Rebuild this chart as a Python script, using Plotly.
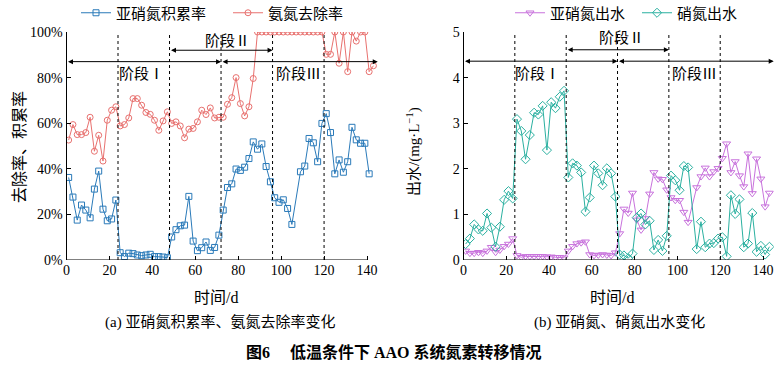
import plotly.graph_objects as go

# ---------------- data ----------------
# (a) 亚硝氮积累率 (%)
days_nar = [1,3,5,7,9,11,13,15,17,19,21,23,
            25,27,29,31,33,35,37,39,41,43,45,47,
            49,51,53,55,57,59,61,63,65,67,69,71,
            73,75,77,79,81,83,85,87,89,91,93,95,
            97,99,101,103,105,109,111,113,115,117,119,
            121,123,125,127,129,131,133,135,137,139,141]
nar = [36.2,27.6,17.5,24.1,21.9,18.5,31.1,39.0,22.3,17.2,18.0,26.3,
       3.2,1.5,3.0,2.8,2.2,1.9,2.2,2.5,1.5,1.5,1.3,1.0,
       10.1,13.3,15.0,15.3,27.9,8.3,4.1,5.4,7.9,4.2,5.5,10.9,
       21.9,31.8,33.4,39.9,39.3,40.7,44.5,51.8,48.6,50.9,41.0,34.3,
       27.3,25.3,26.4,22.6,15.6,38.7,41.2,53.3,51.4,43.1,59.9,
       64.2,55.9,37.8,43.9,38.5,43.1,58.2,52.7,51.2,51.2,37.8]

# (a) 氨氮去除率 (%)
days_arr = [1,3,5,7,9,11,13,15,17,19,21,23,
            25,27,29,31,33,35,37,39,41,43,45,47,
            49,51,53,55,57,59,61,63,65,67,69,71,
            73,75,77,79,81,83,85,87,89,91,93,95,
            97,99,101,103,105,107,109,111,113,115,117,119,
            121,123,125,127,129,131,133,135,137,139,141,143]
arr = [52.6,59.4,55.0,55.0,55.9,62.6,47.7,54.7,43.4,61.3,65.7,67.2,
       58.8,59.4,62.3,70.8,70.8,67.9,64.7,63.9,61.3,56.9,61.0,65.0,
       59.9,60.6,58.8,53.6,57.4,57.7,60.6,65.7,63.8,66.7,62.3,62.6,
       62.6,68.3,71.2,80.0,68.6,63.2,67.2,79.6,100,100,100,100,
       100,100,100,100,100,100,100,100,100,100,100,100,
       90.2,90.2,100,86.3,100,82.6,100,96.0,100,100,82.6,85.2]

# (b) 亚硝氮出水 (mg/L)
days_no2 = [1,3,5,7,9,11,13,15,17,19,21,23,
            25,27,29,31,33,35,37,39,41,43,45,47,
            49,51,53,55,57,59,61,63,65,67,69,71,
            73,75,77,79,81,83,85,87,89,91,93,95,
            97,99,101,103,105,109,111,113,115,117,119,
            121,123,125,127,129,131,133,135,137,139,141,143]
no2 = [0.20,0.15,0.15,0.17,0.15,0.20,0.28,0.17,0.22,0.30,0.35,0.47,
       0.10,0.06,0.08,0.08,0.08,0.08,0.08,0.07,0.07,0.06,0.06,0.05,
       0.20,0.30,0.36,0.38,0.40,0.12,0.10,0.11,0.12,0.11,0.10,0.16,
       0.58,1.12,1.03,1.47,0.88,0.66,0.91,1.45,1.92,1.78,1.77,1.54,
       1.37,1.31,1.31,1.05,0.83,1.59,1.83,2.02,1.83,1.94,2.01,
       2.23,2.55,1.92,2.16,1.85,1.61,2.33,1.46,2.22,1.78,1.17,1.47]

# (b) 硝氮出水 (mg/L)
days_no3 = days_no2
no3 = [0.35,0.47,0.78,0.67,0.64,1.02,0.71,0.29,0.73,1.32,1.51,1.35,
       3.09,2.83,2.21,2.74,3.23,3.19,3.38,2.41,3.46,3.33,3.58,3.71,
       1.81,2.12,2.07,1.92,1.06,1.37,2.07,1.90,1.64,2.01,1.90,1.39,
       0.12,0.10,0.04,0.14,0.93,1.02,0.78,0.86,0.22,0.44,0.20,0.53,
       1.85,1.75,1.53,2.06,2.03,0.24,0.84,0.28,0.36,0.37,0.47,
       0.50,0.08,1.42,1.01,1.33,0.28,0.36,1.03,0.18,0.31,0.12,0.29]

stage_bounds = [24, 48, 72, 96, 120]
x_ticks = [0, 20, 40, 60, 80, 100, 120, 140]
y_ticks_a = [0, 20, 40, 60, 80, 100]
y_ticks_b = [0, 1, 2, 3, 4, 5]

# ---------------- style ----------------
W, H = 784, 366
FONT = "Liberation Serif, Noto Sans CJK SC, serif"
CJK = "Liberation Serif, Noto Sans CJK SC, serif"
BLUE = "#2a7ab9"
RED = "#e8716f"
PURP = "#c872dc"
TEAL = "#2ab0a0"

def px_x(p):
    return p / W

def px_y(p):
    return 1 - p / H

XMAX = 145
x0a, x140a = 66.5, 367.0
x0b, x140b = 463.5, 763.0
sa = (x140a - x0a) / 140
sb = (x140b - x0b) / 140
ytop, ybot = 32, 260

fig = go.Figure()

mk = dict(size=6, line=dict(width=1))
fig.add_trace(go.Scatter(x=days_nar, y=nar, mode="lines+markers", name="亚硝氮积累率",
                         line=dict(color=BLUE, width=1),
                         marker=dict(symbol="square-open", color=BLUE, **mk),
                         xaxis="x", yaxis="y", legend="legend"))
fig.add_trace(go.Scatter(x=days_arr, y=arr, mode="lines+markers", name="氨氮去除率",
                         line=dict(color=RED, width=1),
                         marker=dict(symbol="circle-open", color=RED, **mk),
                         xaxis="x", yaxis="y", legend="legend2"))
fig.add_trace(go.Scatter(x=days_no2, y=no2, mode="lines+markers", name="亚硝氮出水",
                         line=dict(color=PURP, width=1),
                         marker=dict(symbol="triangle-down-open", color=PURP, size=7, line=dict(width=1)),
                         xaxis="x2", yaxis="y2", legend="legend3"))
fig.add_trace(go.Scatter(x=days_no3, y=no3, mode="lines+markers", name="硝氮出水",
                         line=dict(color=TEAL, width=1),
                         marker=dict(symbol="diamond-open", color=TEAL, size=7, line=dict(width=1)),
                         xaxis="x2", yaxis="y2", legend="legend4"))

axis_common = dict(showgrid=False, zeroline=False, ticks="inside", ticklen=4,
                   tickwidth=1, tickcolor="black", automargin=False,
                   tickfont=dict(family=FONT, size=14, color="black"))

fig.update_layout(
    width=W, height=H, autosize=False,
    margin=dict(l=0, r=0, t=0, b=0, autoexpand=False),
    paper_bgcolor="white", plot_bgcolor="white",
    font=dict(family=FONT, color="black"),
    showlegend=True,
    xaxis=dict(domain=[px_x(x0a), px_x(x0a + XMAX * sa)], range=[0, XMAX],
               tickvals=x_ticks, showline=False, anchor="y", **axis_common),
    yaxis=dict(domain=[px_y(ybot), px_y(ytop)], range=[0, 100], tickvals=y_ticks_a,
               ticktext=[f"{v}%" for v in y_ticks_a],
               showline=True, linecolor="black", linewidth=1, anchor="x", **axis_common),
    xaxis2=dict(domain=[px_x(x0b), px_x(x0b + XMAX * sb)], range=[0, XMAX],
                tickvals=x_ticks, showline=False, anchor="y2", **axis_common),
    yaxis2=dict(domain=[px_y(ybot), px_y(ytop)], range=[0, 5], tickvals=y_ticks_b,
                showline=True, linecolor="black", linewidth=1, anchor="x2", **axis_common),
)

leg_common = dict(orientation="h", xanchor="left", yanchor="middle",
                  xref="container", yref="container",
                  bgcolor="rgba(0,0,0,0)", font=dict(family=CJK, size=15, color="black"),
                  itemwidth=30, tracegroupgap=0)
fig.update_layout(
    legend=dict(x=px_x(76), y=px_y(13), **leg_common),
    legend2=dict(x=px_x(228), y=px_y(13), **leg_common),
    legend3=dict(x=px_x(510), y=px_y(13), **leg_common),
    legend4=dict(x=px_x(637), y=px_y(13), **leg_common),
)

shapes = []
for xa, ya, ymax in (("x", "y", 100), ("x2", "y2", 5)):
    # x axis line ending at 140
    shapes.append(dict(type="line", xref=xa, yref=ya, x0=0, x1=140, y0=0, y1=0,
                       line=dict(color="black", width=1)))
    for b in stage_bounds:
        shapes.append(dict(type="line", xref=xa, yref=ya, x0=b, x1=b, y0=0, y1=ymax,
                           line=dict(color="black", width=1, dash="dot")))
fig.update_layout(shapes=shapes)

ann = []
def arrow(xa, ya, x_start, x_end, yv):
    ann.append(dict(xref=xa, yref=ya, axref=xa, ayref=ya, x=x_end, y=yv, ax=x_start, ay=yv,
                    text="", showarrow=True, arrowhead=2, arrowsize=1, arrowwidth=1,
                    arrowside="end+start", arrowcolor="black"))

def label(xa, ya, xv, yv, txt):
    ann.append(dict(xref=xa, yref=ya, x=xv, y=yv, text=txt, showarrow=False,
                    font=dict(family=CJK, size=15, color="black")))

# panel a
arrow("x", "y", 0, 72, 87.0)
arrow("x", "y", 72, XMAX, 87.0)
arrow("x", "y", 48, 96, 92.0)
label("x", "y", 35, 81.5, "阶段Ⅰ")
label("x", "y", 75, 96.2, "阶段Ⅱ")
label("x", "y", 108, 81.5, "阶段Ⅲ")
# panel b
arrow("x2", "y2", 0, 72, 4.36)
arrow("x2", "y2", 72, XMAX, 4.36)
arrow("x2", "y2", 48, 96, 4.61)
label("x2", "y2", 34.5, 4.08, "阶段Ⅰ")
label("x2", "y2", 74, 4.86, "阶段Ⅱ")
label("x2", "y2", 108, 4.08, "阶段Ⅲ")

def ptext(xp, yp, txt, size=15, angle=0):
    ann.append(dict(xref="paper", yref="paper", x=px_x(xp), y=px_y(yp), text=txt,
                    showarrow=False, textangle=angle, xanchor="center", yanchor="middle",
                    font=dict(family=CJK, size=size, color="black")))

ptext(19, 147, "去除率、积累率", size=16, angle=-90)
ptext(413, 152, "出水/(mg·L<sup>−1</sup>)", size=15, angle=-90)
ptext(216, 297, "时间/d", size=16)
ptext(612, 297, "时间/d", size=16)
ptext(220, 322, "(a) 亚硝氮积累率、氨氮去除率变化", size=15)
ptext(619, 322, "(b) 亚硝氮、硝氮出水变化", size=15)
ptext(394, 352, "<b>图6　 低温条件下 AAO 系统氮素转移情况</b>", size=16)

fig.update_layout(annotations=ann)

fig.write_html("out.html",
               config={"displayModeBar": False},
               post_script="document.body.style.margin='0px';document.body.style.padding='0px';")
